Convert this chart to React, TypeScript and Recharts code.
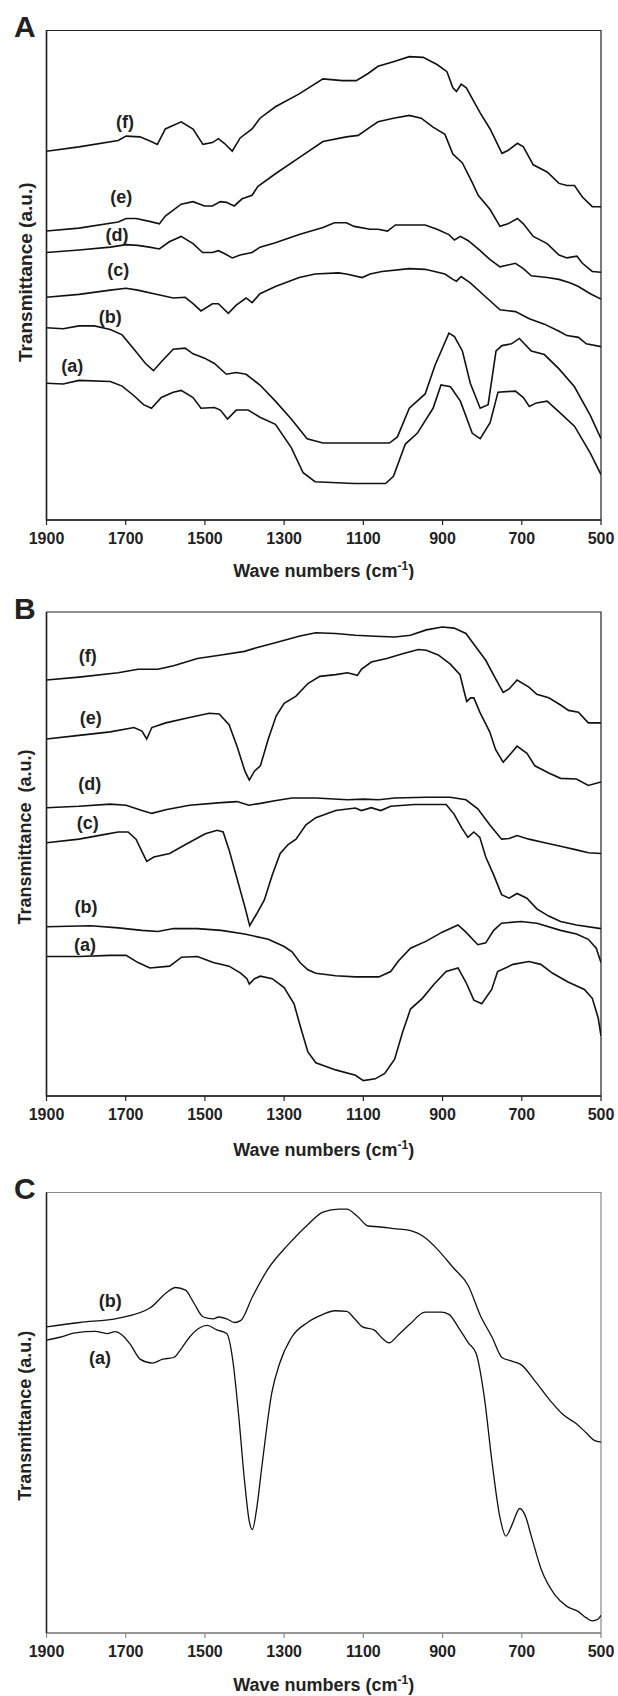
import { LineChart, Line, XAxis, YAxis, ReferenceArea, ReferenceDot } from "recharts";

type Pair = [number, number];

const waveTicks = [1900, 1700, 1500, 1300, 1100, 900, 700, 500];

// Panel A spectra: [wave number, transmittance a.u.]
const aF: Pair[] = [[1900,103],[1818,104.2],[1719,106],[1699,107.2],[1664,107],[1640,105.9],[1620,104.9],[1600,109.2],[1560,111.2],[1530,109.2],[1505,104.9],[1481,105.4],[1466,106.5],[1451,105.2],[1431,103],[1411,106.7],[1381,109.2],[1361,112.2],[1322,115.4],[1262,119],[1202,123.2],[1153,122.7],[1118,122.7],[1088,124.7],[1063,126.7],[1024,128],[984,129.4],[949,129.2],[914,127.2],[889,125.2],[874,120.7],[865,119.7],[853,121.7],[840,120.7],[825,117.7],[805,113.7],[780,109.2],[750,102.4],[735,103.2],[711,105.2],[696,104.2],[671,99.2],[636,97.2],[606,94],[586,93.4],[567,93.4],[547,90.2],[522,87.5],[500,87.5]];
const aE: Pair[] = [[1900,80.7],[1818,81.5],[1719,83.2],[1699,84.2],[1674,84.2],[1640,83.4],[1615,82.7],[1600,84.9],[1560,88.2],[1530,88.9],[1501,87.7],[1481,87.7],[1461,88.9],[1446,88.7],[1426,87.7],[1406,89.7],[1381,90.7],[1366,93.2],[1322,96.7],[1262,101.2],[1202,105.7],[1143,107],[1113,107.4],[1083,109.7],[1063,111.2],[1024,112.2],[984,113],[954,112.2],[924,109.7],[894,107.7],[874,102.2],[850,99.7],[825,94.2],[810,90.7],[780,86.7],[755,82],[735,82.7],[711,84.2],[696,82.7],[671,79.2],[636,77.2],[606,74],[586,73.2],[561,73.7],[547,71.7],[522,69.4],[500,69.2]];
const aD: Pair[] = [[1900,74.7],[1818,75.4],[1739,76.2],[1699,76.9],[1670,76.7],[1640,76.2],[1615,75.7],[1590,77.7],[1560,79.2],[1530,77.2],[1506,74.7],[1481,74.7],[1466,75.2],[1451,74.4],[1431,73.2],[1411,74],[1381,74.7],[1361,76.2],[1322,77.4],[1262,79.7],[1202,81.7],[1173,83],[1143,83],[1123,82],[1083,81.2],[1063,81.2],[1039,80.7],[1019,82.4],[944,82.4],[914,81.2],[884,79.7],[870,78.2],[855,79.2],[835,78],[805,75.2],[780,72.7],[755,70.7],[735,71.2],[716,71.7],[696,70.2],[676,68.2],[636,67.7],[606,67.2],[577,66.2],[557,65.2],[527,63.2],[500,61.7]];
const aC: Pair[] = [[1900,62.2],[1818,63],[1739,64.2],[1699,64.7],[1670,64.2],[1620,63],[1580,62],[1550,62.2],[1530,60.4],[1510,58.4],[1481,60.4],[1466,60.4],[1441,57.7],[1421,60],[1396,62],[1381,60.7],[1361,63.2],[1322,65.2],[1262,67.7],[1222,68.7],[1163,69],[1143,68.7],[1103,67.7],[1083,68.7],[1053,69.4],[984,70.2],[944,70],[894,68.7],[874,67.2],[865,66.7],[853,68],[830,66.2],[795,62.7],[755,58.7],[716,58.2],[681,56.2],[643,54.7],[606,52.7],[586,51.5],[557,51],[537,49.2],[500,48.4]];
const aB: Pair[] = [[1900,53.7],[1858,53.4],[1818,54.2],[1779,54.2],[1739,53.2],[1709,51.7],[1679,47.7],[1650,43.7],[1630,41.7],[1610,44.2],[1580,47.7],[1550,48],[1530,46.4],[1501,45.2],[1476,43.7],[1446,40.7],[1421,41.2],[1396,40.7],[1361,37.7],[1322,33.2],[1282,28.2],[1242,22.7],[1202,21.5],[1123,21.5],[1034,21.5],[1014,23.2],[984,31.2],[944,35.2],[919,43.2],[884,52.2],[870,51.2],[850,47.2],[830,38.2],[805,31.2],[785,32.2],[765,47.2],[750,48.7],[726,49.2],[706,50.7],[676,47.2],[643,46.2],[606,42.2],[567,37.2],[527,29.2],[500,22.7]];
const aA: Pair[] = [[1900,38.2],[1858,38],[1818,39],[1739,38.7],[1709,37.4],[1679,34.7],[1655,32.2],[1635,31.2],[1610,34.2],[1580,35.7],[1560,36.2],[1530,34.2],[1510,31.2],[1476,31.4],[1461,30.7],[1443,28.2],[1421,30.7],[1391,30.7],[1361,28.7],[1322,26.7],[1282,20.2],[1252,13.2],[1222,10.7],[1123,10.2],[1044,10.2],[1024,12.2],[994,21.2],[964,24.2],[924,31.2],[904,37.7],[880,37.2],[855,33.2],[825,24.2],[805,22.7],[780,27.2],[760,35.7],[716,36],[696,34.2],[681,31.7],[663,32.7],[636,33.2],[606,30.2],[567,26.2],[527,18.7],[500,12.7]];

// Panel B spectra
const bF: Pair[] = [[1900,116.3],[1818,117.1],[1719,118.3],[1669,119.3],[1619,119.3],[1579,120.3],[1519,122.3],[1459,123.3],[1400,124.3],[1370,125.3],[1320,126.8],[1260,128.6],[1220,129.5],[1170,129.3],[1120,128.8],[1070,128.5],[1021,128.3],[981,128.8],[941,130.3],[901,131.1],[871,130.8],[841,129.3],[821,126.3],[791,121.8],[767,116.8],[747,112.8],[732,113.8],[712,116.3],[682,114.3],[662,112.3],[632,111.3],[602,109.3],[582,107.8],[557,107.3],[532,104.3],[500,104.3]];
const bE: Pair[] = [[1900,99.8],[1818,100.8],[1739,101.8],[1679,103],[1659,102],[1647,99.8],[1634,103],[1599,104.3],[1539,105.8],[1489,107],[1464,106.8],[1439,103.8],[1419,97.8],[1399,90.8],[1388,88.3],[1375,90.8],[1360,92.3],[1340,99.8],[1320,106.3],[1300,109.8],[1270,111.8],[1240,115.3],[1210,117.3],[1170,117.8],[1140,118.3],[1115,117.6],[1105,119.3],[1080,121.3],[1041,122.3],[1001,123.6],[961,124.8],[941,124.6],[911,123.3],[881,120.8],[856,117.8],[846,113.3],[839,110.3],[829,111.3],[821,111.3],[806,107.3],[781,101.8],[766,96.8],[747,93.3],[727,95.8],[712,97.8],[687,95.8],[667,92.3],[632,90.3],[602,88.8],[562,88.6],[532,86.8],[500,87.8]];
const bD: Pair[] = [[1900,80.6],[1818,81],[1739,81.6],[1699,81.3],[1659,79.8],[1634,79],[1599,80],[1539,81.3],[1459,82],[1419,82.3],[1389,81.3],[1360,81.8],[1320,82.6],[1280,83.3],[1220,83.3],[1140,82.8],[1100,83],[1061,82.8],[1021,83.3],[941,83.5],[881,83.5],[841,82.8],[811,80.3],[781,75.8],[751,71.8],[732,72],[712,72.8],[682,71.8],[642,70.8],[602,69.8],[562,68.8],[532,68],[500,67.8]];
const bC: Pair[] = [[1900,70.8],[1818,71.8],[1759,73],[1719,73.8],[1694,73.8],[1674,71.8],[1659,68.3],[1647,65.6],[1629,66.8],[1589,67.8],[1549,70.3],[1499,73.3],[1469,74.3],[1454,73.8],[1439,68.8],[1419,60.8],[1399,52.8],[1387,47.6],[1370,50.8],[1350,54.8],[1330,61.8],[1310,67.8],[1290,70.3],[1270,71.8],[1245,75.8],[1220,77.8],[1170,79.8],[1120,80.5],[1105,79.8],[1080,80.6],[1056,79.8],[1031,81],[971,81.5],[891,81.5],[871,78.8],[851,74.8],[836,72.3],[821,73.8],[806,72.3],[791,66.8],[771,61.8],[751,56.3],[732,55.3],[712,56.6],[687,55.3],[662,52.3],[632,50.3],[602,48.8],[562,47.8],[500,46.8]];
const bB: Pair[] = [[1900,47.3],[1788,47.6],[1719,47],[1659,46.3],[1619,46],[1579,46.8],[1519,46.8],[1459,46.3],[1400,45.3],[1340,43.8],[1300,41.8],[1280,40.3],[1260,37.3],[1240,35.3],[1220,34.3],[1170,33.6],[1120,33.3],[1061,33.3],[1031,34.8],[1011,37.8],[981,41.3],[941,43.3],[901,45.8],[861,47.8],[841,45.8],[811,42.3],[791,42.8],[771,46.3],[751,48.3],[702,48.8],[662,48.3],[602,46.3],[562,45.3],[532,43.8],[512,41.3],[500,37.3]];
const bA: Pair[] = [[1900,39],[1818,39],[1739,39.3],[1699,39.3],[1669,37.3],[1639,35.8],[1589,36.3],[1559,38.8],[1519,39],[1479,37.3],[1439,36.3],[1409,34.3],[1394,32.8],[1388,31.3],[1375,32.8],[1360,33.5],[1330,32.8],[1300,30.3],[1275,25.8],[1260,19.8],[1240,12.3],[1220,9.3],[1170,7.3],[1120,5.8],[1100,4.3],[1070,4.8],[1046,6.3],[1021,10.3],[1001,17.8],[981,24.3],[951,27.3],[921,31.3],[891,34.8],[861,35.8],[841,31.8],[821,26.8],[801,25.8],[776,29.8],[761,34.8],[722,36.8],[682,37.6],[652,36.8],[622,34.3],[582,31.8],[542,29.8],[522,27.3],[507,21.8],[500,16.8]];

// Panel C spectra
const cB: Pair[] = [[1900,83.1],[1817,84.3],[1718,85.5],[1638,88.3],[1598,92.3],[1574,93.8],[1549,93.1],[1529,89.8],[1504,85.8],[1479,85.3],[1465,85.8],[1445,85.3],[1425,84.3],[1410,84.8],[1380,91.3],[1341,98.8],[1291,105.3],[1241,110.8],[1202,114.3],[1162,115.1],[1142,115.1],[1112,112.8],[1088,110.5],[1063,110.3],[1023,109.8],[983,109.3],[944,107.3],[914,104.3],[874,99.3],[835,94.3],[805,86.3],[775,80.3],[750,74.8],[725,73.8],[701,72.8],[666,68.3],[626,62.8],[596,59.3],[562,56.8],[537,54.3],[517,52.3],[500,51.8]];
const cA: Pair[] = [[1900,79.5],[1866,80.3],[1827,81.5],[1777,81.9],[1747,81.3],[1727,81.8],[1708,80.8],[1688,78.3],[1663,74.3],[1633,73.3],[1608,74.3],[1579,74.8],[1559,77.3],[1539,80.3],[1514,82.8],[1494,83.5],[1470,82.3],[1445,81.3],[1430,74.3],[1415,59.3],[1400,41.3],[1388,30.3],[1380,28.1],[1370,33.3],[1355,46.3],[1331,65.3],[1311,73.3],[1281,80.3],[1241,84.3],[1202,86.5],[1172,87.5],[1142,87.3],[1122,85.3],[1102,83.1],[1073,82.3],[1053,80.1],[1035,78.8],[1013,80.8],[983,83.8],[944,87.1],[904,87.1],[884,86.5],[859,82.8],[835,78.8],[815,75.8],[795,64.3],[775,46.3],[755,31.3],[740,26.3],[725,29.3],[705,33.8],[691,31.8],[676,26.3],[651,17.3],[616,10.3],[587,7.3],[557,5.8],[537,4.1],[522,3.3],[507,3.8],[500,4.8]];

// curve tags, anchored in data coordinates
const tagsA = [
  { name: "(f)", w: 1702, v: 111.2 },
  { name: "(e)", w: 1711, v: 90.4 },
  { name: "(d)", w: 1722, v: 79.7 },
  { name: "(c)", w: 1719, v: 70 },
  { name: "(b)", w: 1739, v: 56.7 },
  { name: "(a)", w: 1835, v: 43.2 },
];
const tagsB = [
  { name: "(f)", w: 1796, v: 123 },
  { name: "(e)", w: 1788, v: 105.8 },
  { name: "(d)", w: 1791, v: 87.3 },
  { name: "(c)", w: 1796, v: 76.3 },
  { name: "(b)", w: 1800, v: 53 },
  { name: "(a)", w: 1803, v: 42.3 },
];
const tagsC = [
  { name: "(b)", w: 1739, v: 90.3 },
  { name: "(a)", w: 1765, v: 74.8 },
];

const FONT = '"Liberation Sans", Arial, Helvetica, sans-serif';
const INK = "#222";

const toPoints = (pairs: Pair[]) => pairs.map(([w, v]) => ({ w, v }));

type PanelProps = {
  letter: string;
  series: Pair[][];
  tags: { name: string; w: number; v: number }[];
  yMax: number;
  top: number;
  height: number;
  marginTop: number;
  xAxisHeight: number;
  curve: "linear" | "monotone";
  lineWidth: number;
  frameColor: string;
  bottomColor: string;
  titleDy: number;
  yTitle: string;
  yTitleSize: number;
  yTitleShift: number;
  letterBaseline: number;
};

const Panel = (p: PanelProps) => {
  const plotMid = p.marginTop + (p.height - p.marginTop - p.xAxisHeight) / 2 + p.yTitleShift;
  return (
    <div style={{ position: "absolute", left: 0, top: p.top, width: 618, height: p.height }}>
      <LineChart
        width={618}
        height={p.height}
        margin={{ top: p.marginTop, right: 17, bottom: 0, left: 26.5 }}
      >
        <XAxis
          dataKey="w"
          type="number"
          domain={[500, 1900]}
          reversed
          allowDataOverflow
          ticks={waveTicks}
          interval={0}
          height={p.xAxisHeight}
          tickSize={5}
          tickMargin={8}
          axisLine={{ stroke: p.bottomColor, strokeWidth: 1.5 }}
          tickLine={{ stroke: p.bottomColor, strokeWidth: 1.2 }}
          tick={{ fill: INK, fontSize: 16, fontWeight: "bold", fontFamily: FONT }}
          label={{
            content: (lp: any) => {
              const vb = lp.viewBox;
              const cx = vb.x + vb.width / 2;
              const y = vb.y + p.titleDy;
              return (
                <text x={cx} y={y} textAnchor="middle" fontSize={18} fontWeight="bold" fill={INK} fontFamily={FONT}>
                  Wave numbers (cm<tspan dy={-7} fontSize={12}>-1</tspan>
                  <tspan dy={7}>)</tspan>
                </text>
              );
            },
          }}
        />
        <YAxis
          type="number"
          domain={[0, p.yMax]}
          allowDataOverflow
          width={20}
          tick={false}
          tickLine={false}
          axisLine={{ stroke: INK, strokeWidth: 1.5 }}
        />
        <ReferenceArea
          x1={1900}
          x2={500}
          y1={0}
          y2={p.yMax}
          fill="none"
          stroke={p.frameColor}
          strokeWidth={1.2}
          ifOverflow="visible"
        />
        {p.series.map((s, i) => (
          <Line
            key={i}
            data={toPoints(s)}
            dataKey="v"
            type={p.curve}
            stroke="#111"
            strokeWidth={p.lineWidth}
            dot={false}
            activeDot={false}
            isAnimationActive={false}
          />
        ))}
        {p.tags.map((t) => (
          <ReferenceDot
            key={t.name}
            x={t.w}
            y={t.v}
            r={0}
            fill="none"
            stroke="none"
            ifOverflow="visible"
            label={{
              value: t.name,
              position: "center",
              fontSize: 18,
              fontWeight: "bold",
              fill: INK,
              fontFamily: FONT,
            }}
          />
        ))}
      </LineChart>
      <svg
        width={618}
        height={p.height}
        style={{ position: "absolute", left: 0, top: 0, pointerEvents: "none" }}
      >
        <text x={14} y={p.letterBaseline} fontSize={30} fontWeight="bold" fill={INK} fontFamily={FONT}>
          {p.letter}
        </text>
        <text
          x={25}
          y={plotMid}
          transform={`rotate(-90 25 ${plotMid})`}
          textAnchor="middle"
          dominantBaseline="central"
          fontSize={p.yTitleSize}
          fontWeight="bold"
          fill={INK}
          fontFamily={FONT}
        >
          {p.yTitle}
        </text>
      </svg>
    </div>
  );
};

const App = () => {
  return (
    <div style={{ position: "absolute", left: 0, top: 0, width: 618, height: 1696, background: "#fff" }}>
      <Panel
        letter="A"
        series={[aF, aE, aD, aC, aB, aA]}
        tags={tagsA}
        yMax={136.7}
        top={0}
        height={580}
        marginTop={30.5}
        xAxisHeight={60}
        curve="linear"
        lineWidth={1.6}
        frameColor={INK}
        bottomColor={INK}
        titleDy={56.5}
        yTitle="Transmittance (a.u.)"
        yTitleSize={19}
        yTitleShift={-3}
        letterBaseline={37}
      />
      <Panel
        letter="B"
        series={[bF, bE, bD, bC, bB, bA]}
        tags={tagsB}
        yMax={135.3}
        top={580}
        height={580}
        marginTop={32}
        xAxisHeight={64}
        curve="linear"
        lineWidth={1.6}
        frameColor={INK}
        bottomColor={INK}
        titleDy={60}
        yTitle={"Transmittance\u00A0 (a.u.)"}
        yTitleSize={18}
        yTitleShift={-17}
        letterBaseline={39}
      />
      <Panel
        letter="C"
        series={[cB, cA]}
        tags={tagsC}
        yMax={119.6}
        top={1160}
        height={536}
        marginTop={32.5}
        xAxisHeight={63}
        curve="monotone"
        lineWidth={1.3}
        frameColor="#888"
        bottomColor="#888"
        titleDy={57.5}
        yTitle="Transmittance (a.u.)"
        yTitleSize={18}
        yTitleShift={3}
        letterBaseline={39}
      />
    </div>
  );
};

export default App;
